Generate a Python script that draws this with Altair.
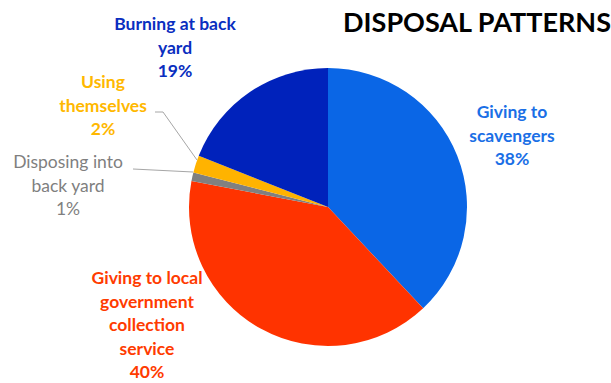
import altair as alt
import pandas as pd

categories = ["Giving to scavengers", "Giving to local government collection service",
              "Disposing into back yard", "Using themselves", "Burning at back yard"]
values = [38, 40, 1, 2, 19]
label_lines = ["Giving to\nscavengers\n38%",
               "Giving to local\ngovernment\ncollection\nservice\n40%",
               "Disposing into\nback yard\n1%",
               "Using\nthemselves\n2%",
               "Burning at back\nyard\n19%"]
slice_colors = ["#0A66E6", "#FF3300", "#808080", "#FFB300", "#0022BB"]
label_colors = ["#1A6FE6", "#FF3B00", "#7F7F7F", "#FFB800", "#0A2EC0"]
title_text = "DISPOSAL PATTERNS"

df = pd.DataFrame({"category": categories, "value": values,
                   "order": list(range(len(categories)))})

CX, CY, R = 328, 207, 139
W, H = 611, 383
FONT = "Lato"

pie = alt.Chart(df).mark_arc(radius=R, stroke=None).encode(
    theta=alt.Theta("value:Q", stack=True),
    order=alt.Order("order:Q"),
    color=alt.Color("category:N", scale=alt.Scale(domain=categories, range=slice_colors),
                    legend=None),
    x=alt.value(CX), y=alt.value(CY),
)

# label layout (x center, y of first line)
label_pos = [(512, 113), (147, 279), (68, 163), (103, 83), (175, 25)]
layers = [pie]
for i, cat in enumerate(categories):
    lx, ly = label_pos[i]
    t = alt.Chart(pd.DataFrame({"label": [label_lines[i]]})).mark_text(
        font=FONT, fontSize=17.5, fontWeight="normal" if i == 2 else "bold",
        color=label_colors[i], lineBreak="\n", lineHeight=23.5,
        align="center", baseline="middle",
    ).encode(text="label:N", x=alt.value(lx), y=alt.value(ly))
    layers.append(t)

# leader lines
leader_segments = [(133, 169, 193, 172), (155, 112, 163, 112), (163, 112, 197, 160)]
for (x1, y1, x2, y2) in leader_segments:
    layers.append(alt.Chart(pd.DataFrame({"a": [0]})).mark_rule(color="#A6A6A6", strokeWidth=1).encode(
        x=alt.value(x1), y=alt.value(y1), x2=alt.value(x2), y2=alt.value(y2)))

title = alt.Chart(pd.DataFrame({"t": [title_text]})).mark_text(
    font=FONT, fontSize=27, fontWeight="bold", color="#000000",
    align="center", baseline="middle",
).encode(text="t:N", x=alt.value(477), y=alt.value(24))
layers.append(title)

chart = alt.layer(*layers).properties(
    width=W, height=H, padding=0, autosize=alt.AutoSizeParams(type="none"),
    background="white",
).configure_view(stroke=None)

chart.save("out.html", embed_options={"renderer": "svg", "actions": False})
